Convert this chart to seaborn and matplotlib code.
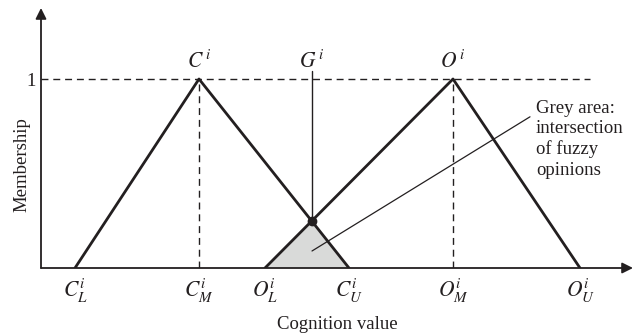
import numpy as np
import pandas as pd
import seaborn as sns
import matplotlib.pyplot as plt

# Triangular fuzzy numbers (lower, middle, upper) on the cognition axis
cog_c = [0.34, 1.58, 3.08]
cog_o = [2.24, 4.12, 5.39]
membership = [0.0, 1.0, 0.0]
tick_labels = [r"$C_L^i$", r"$C_M^i$", r"$O_L^i$", r"$C_U^i$", r"$O_M^i$", r"$O_U^i$"]
peak_labels = [r"$C^{\,i}$", r"$G^{\,i}$", r"$O^{\,i}$"]

sns.set_theme(style="white")
plt.rcParams["font.family"] = ["Liberation Serif", "DejaVu Serif"]
plt.rcParams["mathtext.fontset"] = "stix"

ink = "#231f20"

# intersection of right side of C and left side of O
g_x = (cog_c[2] * (cog_o[1] - cog_o[0]) + cog_o[0] * (cog_c[2] - cog_c[1])) / (
    (cog_o[1] - cog_o[0]) + (cog_c[2] - cog_c[1]))
g_y = (cog_c[2] - g_x) / (cog_c[2] - cog_c[1])

df = pd.DataFrame({
    "x": cog_c + cog_o,
    "y": membership * 2,
    "set": ["C"] * 3 + ["O"] * 3,
})

fig = plt.figure(figsize=(6.37, 3.33), dpi=100)
ax = fig.add_axes([41 / 637, 65 / 333, 592 / 637, 260 / 333])
ax.set_xlim(0, 5.92)
ax.set_ylim(0, 260 / 189)

# grey intersection area
ax.fill([cog_o[0], g_x, cog_c[2]], [0, g_y, 0], color="#d9dad9", lw=0, zorder=1)

sns.lineplot(data=df, x="x", y="y", hue="set", palette=[ink, ink],
             estimator=None, sort=False, legend=False, lw=2, ax=ax, zorder=3)

# reference lines
ax.plot([0, 5.49], [1, 1], ls=(0, (5, 3.5)), lw=1, color=ink, zorder=2)
ax.plot([cog_c[1], cog_c[1]], [0, 1], ls=(0, (5, 3.5)), lw=1, color=ink, zorder=2)
ax.plot([cog_o[1], cog_o[1]], [0, 1], ls=(0, (5, 3.5)), lw=1, color=ink, zorder=2)
ax.plot([g_x, g_x], [g_y, 1.04], lw=1, color=ink, zorder=2)
ax.plot([g_x], [g_y], "o", ms=6, color=ink, zorder=4)

# peak labels
for xx, lab in zip([cog_c[1], g_x, cog_o[1]], peak_labels):
    ax.text(xx, 1.058, lab, ha="center", va="baseline", fontsize=15.5, color=ink)

# annotation
ax.plot([4.89, 2.71], [0.80, 0.09], lw=0.9, color=ink, zorder=4)
ax.text(4.95, 0.89, "Grey area:\nintersection\nof fuzzy\nopinions", ha="left", va="top",
        fontsize=13.5, linespacing=1.25, color=ink)

# axes with arrows
for s in ax.spines.values():
    s.set_visible(False)
ax.annotate("", xy=(1, 0), xytext=(0, 0), xycoords="axes fraction",
            arrowprops=dict(arrowstyle="-|>", lw=1.3, color=ink, mutation_scale=16,
                            shrinkA=0, shrinkB=0))
ax.annotate("", xy=(0, 1), xytext=(0, 0), xycoords="axes fraction",
            arrowprops=dict(arrowstyle="-|>", lw=1.3, color=ink, mutation_scale=16,
                            shrinkA=0, shrinkB=0))

ax.set_xticks(sorted(cog_c + cog_o))
ax.set_xticklabels(tick_labels, fontsize=15.5, color=ink)
ax.set_yticks([1])
ax.set_yticklabels(["1"], fontsize=13.5, color=ink)
ax.tick_params(axis="both", length=0)
ax.tick_params(axis="x", pad=6)
ax.tick_params(axis="y", pad=4)

ax.set_xlabel("Cognition value", fontsize=13.5, color=ink, labelpad=8)
ax.set_ylabel("Membership", fontsize=13.5, color=ink)
ax.yaxis.set_label_coords(-0.018, 0.396)

fig.savefig("out.png", dpi=100)
